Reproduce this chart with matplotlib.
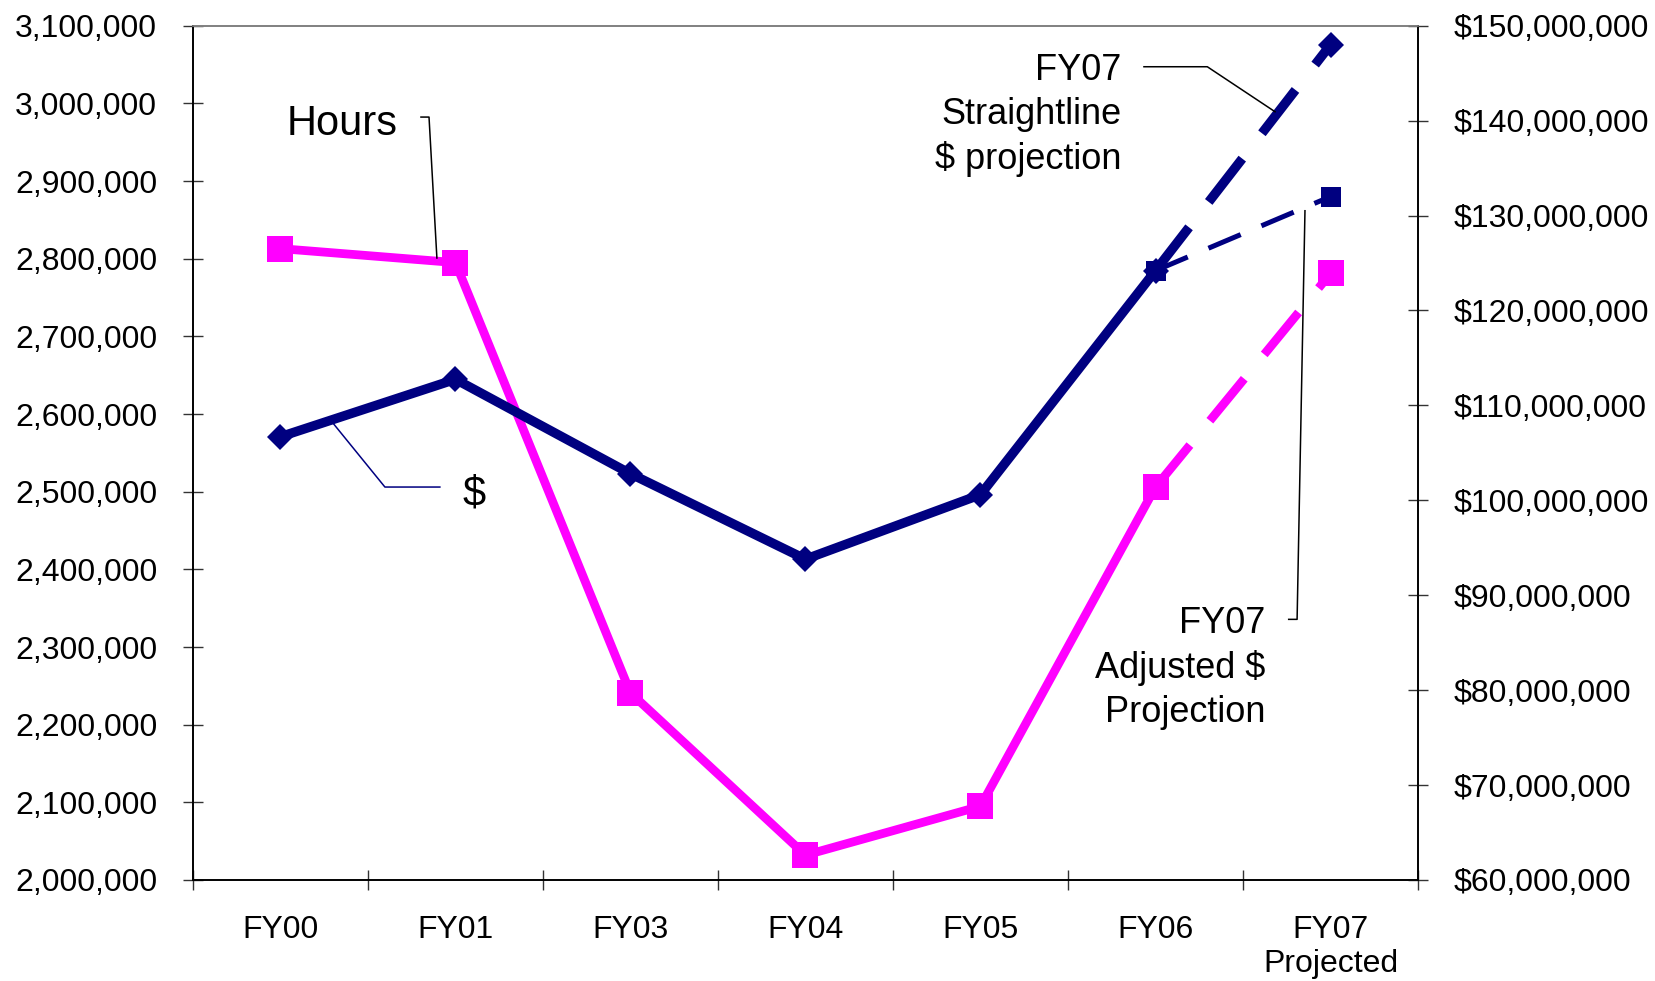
import matplotlib
matplotlib.use("Agg")
import matplotlib.pyplot as plt
from matplotlib.ticker import FuncFormatter, MultipleLocator, FixedLocator

plt.rcParams['font.family'] = ['Liberation Sans', 'DejaVu Sans']

# Data
categories = ["FY00", "FY01", "FY03", "FY04", "FY05", "FY06", "FY07\nProjected"]
hours = [2813000, 2795000, 2241000, 2032000, 2095000, 2506000, 2781000]
dollars = [106.7e6, 112.75e6, 102.8e6, 93.8e6, 100.6e6, 124.2e6]
fy07_straightline = 148.0e6
fy07_adjusted = 132.0e6

navy = "#000080"
pink = "#FF00FF"

fig = plt.figure(figsize=(16.56, 9.81), dpi=100)
ax = fig.add_axes([0.1165, 0.10296, 0.7398, 0.8708])
ax2 = ax.twinx()

x = list(range(len(categories)))

# Hours (left axis)
ax.plot(x[:6], hours[:6], color=pink, lw=6.3, solid_joinstyle="miter")
ax.plot(x[5:], hours[5:], color=pink, lw=6.3, dashes=(6.2, 3.6))
ax.plot(x, hours, ls="none", marker="s", ms=19, color=pink, mew=0)

# Dollars (right axis)
ax2.plot(x[:6], dollars, color=navy, lw=6.8, solid_joinstyle="miter")
ax2.plot([x[5], x[6]], [dollars[5], fy07_straightline], color=navy, lw=6.8,
         dashes=(5.8, 3.4))
ax2.plot([x[5], x[6]], [dollars[5], fy07_adjusted], color=navy, lw=3.6,
         dashes=(7, 4.5))
ax2.plot([x[5], x[6]], [dollars[5], fy07_adjusted], ls="none", marker="s",
         ms=14, color=navy, mew=0)
ax2.plot(x[:6] + [x[6]], dollars + [fy07_straightline], ls="none", marker="D",
         ms=13.5, color=navy, mew=0)

# axes limits / ticks
ax.set_xlim(-0.5, 6.5)
ax.set_ylim(2000000, 3100000)
ax2.set_ylim(60e6, 150e6)
ax.yaxis.set_major_locator(MultipleLocator(100000))
ax2.yaxis.set_major_locator(MultipleLocator(10e6))
ax.yaxis.set_major_formatter(FuncFormatter(lambda v, p: f"{v:,.0f}"))
ax2.yaxis.set_major_formatter(FuncFormatter(lambda v, p: f"${v:,.0f}"))

ax.set_xticks(x)
ax.set_xticklabels(categories)
ax.xaxis.set_minor_locator(FixedLocator([i - 0.5 for i in range(len(categories) + 1)]))
ax.tick_params(axis="x", which="major", length=0, pad=25, labelsize=23)
ax.tick_params(axis="x", which="minor", direction="inout", length=14.4, width=1,
               color="#333333")
ax.tick_params(axis="y", direction="inout", length=14.4, width=1, pad=18.5,
               labelsize=23, color="#333333")
ax2.tick_params(axis="y", direction="inout", length=14.4, width=1, pad=18.5,
                labelsize=23, color="#333333")

for a in (ax, ax2):
    a.spines["top"].set_color("#808080")
    a.spines["top"].set_linewidth(1.2)
    for s in ("left", "right", "bottom"):
        a.spines[s].set_linewidth(1.2)
        a.spines[s].set_color("black")

# Annotations
ax.text(0.671, 2959300, "Hours", fontsize=30, ha="right", va="baseline")
ax.plot([0.803, 0.849, 0.894], [2982400, 2982400, 2800900], color="black", lw=1.1)

ax2.text(1.043, 99.5e6, "$", fontsize=30, ha="left", va="baseline")
ax2.plot([0.911, 0.597, 0.300], [101.4e6, 101.4e6, 108.14e6], color=navy, lw=1.1)

# multi-line text: baseline refers to the last line
ax2.text(4.803, 134.9e6, "FY07\nStraightline\n$ projection", fontsize=26,
         ha="right", va="baseline", multialignment="right", linespacing=1.33)
ax2.plot([4.934, 5.296, 5.683], [145.68e6, 145.68e6, 140.94e6], color="black", lw=1.1)

ax2.text(5.626, 76.65e6, "FY07\nAdjusted $\nProjection", fontsize=26,
         ha="right", va="baseline", multialignment="right", linespacing=1.33)
ax2.plot([5.761, 5.809, 5.854], [87.46e6, 87.46e6, 130.51e6], color="black", lw=1.1)

fig.savefig("out.png", dpi=100)
